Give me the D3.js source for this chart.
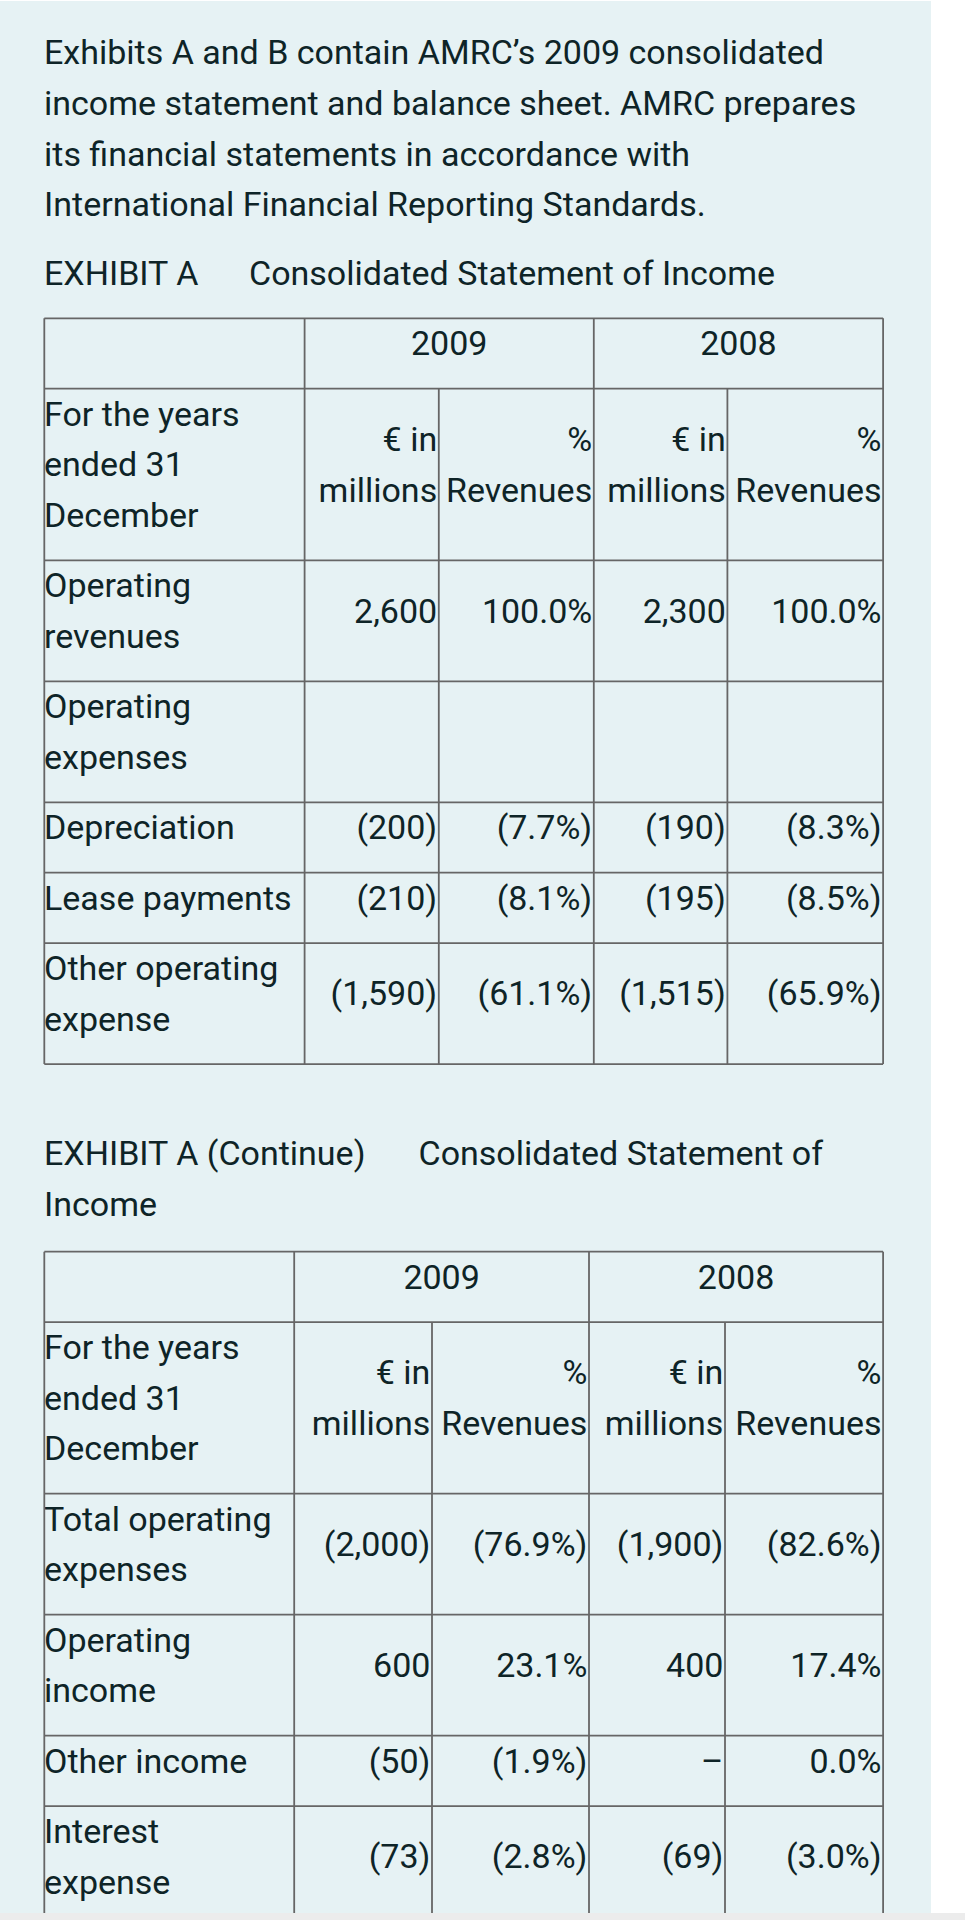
<!DOCTYPE html>
<html>
<head>
<meta charset="utf-8">
<script src="https://cdn.jsdelivr.net/npm/d3@7"></script>
<style>
  html, body { margin: 0; padding: 0; background: #ffffff; }
  svg { display: block; }
  text { font-family: Roboto, "Noto Sans", sans-serif; font-size: 34px; fill: #0e2427; }
</style>
</head>
<body>
<svg id="chart" width="965" height="1920"></svg>
<script>
// ---------------- DATA ----------------
const introLines = [
  "Exhibits A and B contain AMRC\u2019s 2009 consolidated",
  "income statement and balance sheet. AMRC prepares",
  "its financial statements in accordance with",
  "International Financial Reporting Standards."
];
const titleA = ["EXHIBIT A", "Consolidated Statement of Income"];
const titleB = ["EXHIBIT A (Continue)", "Consolidated Statement of", "Income"];

const years = ["2009", "2008"];
const stubHeader = "For the years\nended 31\nDecember";
const unitHeaders = ["\u20ac in\nmillions", "%\nRevenues"];

const rowsA = ["Operating\nrevenues", "Operating\nexpenses", "Depreciation", "Lease payments", "Other operating\nexpense"];
const eur2009A = [2600, null, -200, -210, -1590];
const pct2009A = [100.0, null, -7.7, -8.1, -61.1];
const eur2008A = [2300, null, -190, -195, -1515];
const pct2008A = [100.0, null, -8.3, -8.5, -65.9];

const rowsB = ["Total operating\nexpenses", "Operating\nincome", "Other income", "Interest\nexpense"];
const eur2009B = [-2000, 600, -50, -73];
const pct2009B = [-76.9, 23.1, -1.9, -2.8];
const eur2008B = [-1900, 400, 0, -69];
const pct2008B = [-82.6, 17.4, 0.0, -3.0];

// ---------------- LAYOUT ----------------
const W = 965, H = 1920;
const panelW = 931, panelBottom = 1913;
const lineH = 50.6, baseOff = 37, rowPad = 19.8;
const leftX = 44;
const edgesA = [44.3, 304.6, 438.8, 593.8, 727.4, 883.1];
const edgesB = [44.3, 294.2, 432, 589, 725, 883.1];
const tableTopA = 318.3, tableTopB = 1251.7;
const borderColor = "#666666";

const fmtInt = d3.format(",");
const fmt1 = d3.format(".1f");
const fmtEur = v => v == null ? "" : v === 0 ? "\u2013" : v < 0 ? "(" + fmtInt(-v) + ")" : fmtInt(v);
const fmtPct = v => v == null ? "" : v < 0 ? "(" + fmt1(-v) + "%)" : fmt1(v) + "%";

const svg = d3.select("#chart");

// background panel
svg.append("rect").attr("x", 0).attr("y", 1).attr("width", panelW).attr("height", panelBottom - 1)
  .attr("fill", "#e6f2f4");

// intro paragraph
svg.append("g").selectAll("text").data(introLines).join("text")
  .attr("x", leftX).attr("y", (d, i) => 64.3 + i * lineH).text(d => d);

// Exhibit A title
svg.append("text").attr("x", leftX).attr("y", 285).text(titleA[0]);
svg.append("text").attr("x", 249).attr("y", 285).text(titleA[1]);

// Exhibit A continue title
svg.append("text").attr("x", leftX).attr("y", 1165).text(titleB[0]);
svg.append("text").attr("x", 418.5).attr("y", 1165).text(titleB[1]);
svg.append("text").attr("x", leftX).attr("y", 1165 + lineH).text(titleB[2]);

function nLines(s) { return s.split("\n").length; }

function drawCellText(g, str, x, anchor, rowTop, rowH) {
  const lines = str.split("\n");
  const blockH = lines.length * lineH + rowPad;
  const off = (rowH - blockH) / 2;
  g.append("text").attr("text-anchor", anchor)
    .selectAll("tspan").data(lines).join("tspan")
    .attr("x", x).attr("y", (d, i) => rowTop + off + baseOff + i * lineH).text(d => d);
}

function drawTable(top, edges, labels, e09, p09, e08, p08) {
  const g = svg.append("g");
  // rows: years header, units header, data rows
  const rowsDef = [];
  rowsDef.push({ type: "years", lines: 1 });
  rowsDef.push({ type: "units", lines: Math.max(nLines(stubHeader), ...unitHeaders.map(nLines)) });
  labels.forEach((l, i) => rowsDef.push({ type: "data", i, lines: nLines(l) }));
  let y = top;
  rowsDef.forEach(r => { r.top = y; r.h = r.lines * lineH + rowPad; y += r.h; });
  const bottom = y;

  const rx = edges.map(e => e - 1.6);

  rowsDef.forEach(r => {
    if (r.type === "years") {
      years.forEach((yr, k) => {
        const cx = (edges[1 + 2 * k] + edges[3 + 2 * k]) / 2;
        drawCellText(g, yr, cx, "middle", r.top, r.h);
      });
    } else if (r.type === "units") {
      drawCellText(g, stubHeader, leftX, "start", r.top, r.h);
      [0, 1].forEach(k => {
        drawCellText(g, unitHeaders[0], rx[2 + 2 * k], "end", r.top, r.h);
        drawCellText(g, unitHeaders[1], rx[3 + 2 * k], "end", r.top, r.h);
      });
    } else {
      const i = r.i;
      drawCellText(g, labels[i], leftX, "start", r.top, r.h);
      const vals = [fmtEur(e09[i]), fmtPct(p09[i]), fmtEur(e08[i]), fmtPct(p08[i])];
      vals.forEach((v, k) => { if (v) drawCellText(g, v, rx[2 + k], "end", r.top, r.h); });
    }
  });

  // borders
  const lines = g.append("g").attr("stroke", borderColor).attr("stroke-width", 1.8).attr("fill", "none");
  const hs = rowsDef.map(r => r.top).concat([bottom]);
  lines.selectAll("line.h").data(hs).join("line").attr("class", "h")
    .attr("x1", edges[0]).attr("x2", edges[5]).attr("y1", d => d).attr("y2", d => d);
  [0, 1, 3, 5].forEach(k => lines.append("line").attr("x1", edges[k]).attr("x2", edges[k]).attr("y1", top).attr("y2", bottom));
  [2, 4].forEach(k => lines.append("line").attr("x1", edges[k]).attr("x2", edges[k]).attr("y1", rowsDef[1].top).attr("y2", bottom));
}

drawTable(tableTopA, edgesA, rowsA, eur2009A, pct2009A, eur2008A, pct2008A);
drawTable(tableTopB, edgesB, rowsB, eur2009B, pct2009B, eur2008B, pct2008B);

// bottom strip
svg.append("rect").attr("x", 0).attr("y", panelBottom).attr("width", W).attr("height", H - panelBottom).attr("fill", "#ececec");
</script>
</body>
</html>
